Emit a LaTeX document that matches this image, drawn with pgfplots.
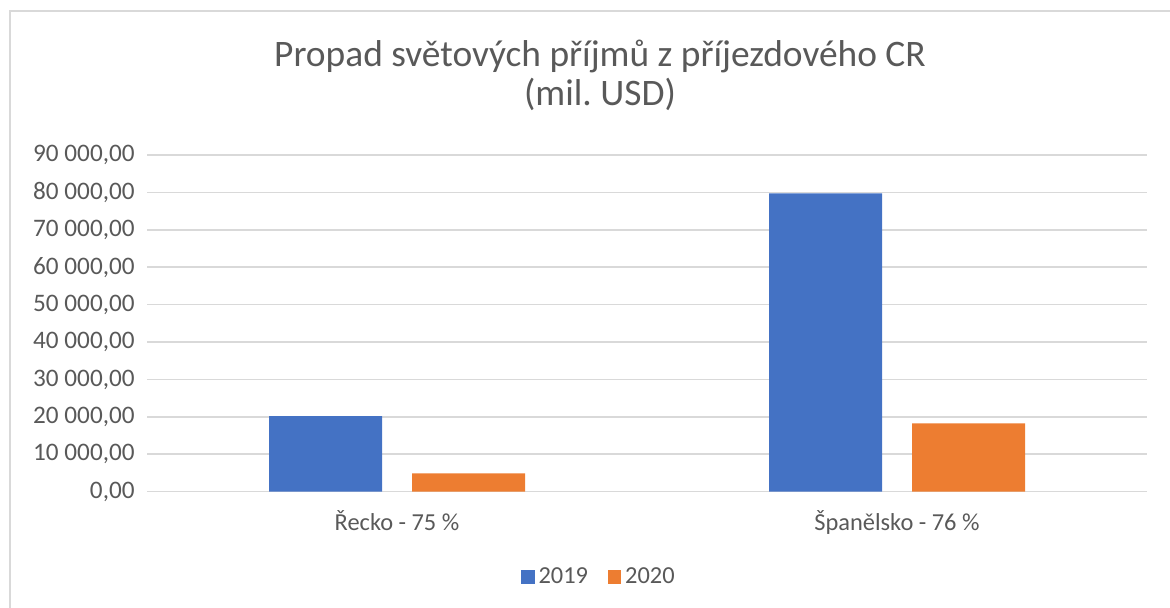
\documentclass[border=0pt]{standalone}
\usepackage{fontspec}
\setmainfont{Carlito}
\usepackage{pgfplots}
\pgfplotsset{compat=1.18}

\definecolor{txt}{HTML}{595959}
\definecolor{gridc}{HTML}{D9D9D9}
\definecolor{c2019}{HTML}{4472C4}
\definecolor{c2020}{HTML}{ED7D31}

\begin{document}
\frenchspacing
\begin{tikzpicture}
% canvas: 1170 x 608 px at 0.5pt per px
\path[use as bounding box] (0,0) rectangle (585pt,304pt);
\draw[gridc, line width=0.8pt] (5pt,0) -- (5pt,298.5pt) -- (585pt,298.5pt);

\node[anchor=base, text=txt, font=\fontsize{18.7}{22}\selectfont] at (300pt,270.5pt)
  {Propad světových příjmů z příjezdového CR};
\node[anchor=base, text=txt, font=\fontsize{18.7}{22}\selectfont] at (300pt,251pt)
  {(mil. USD)};

\begin{axis}[
    at={(73.5pt,58.15pt)}, anchor=south west,
    scale only axis,
    width=500pt, height=168.35pt,
    ybar,
    bar width=0.226,
    xmin=-0.5, xmax=1.5,
    ymin=0, ymax=90000,
    ytick distance=10000,
    xtick={0,1},
    xticklabels={Řecko - 75 \%, Španělsko - 76 \%},
    axis lines*=left,
    axis line style={draw=none},
    major tick length=0pt,
    ymajorgrids,
    grid style={gridc, line width=0.8pt},
    tick label style={text=txt},
    xticklabel style={anchor=base, yshift=-19.2pt, font=\fontsize{12.2}{14}\selectfont},
    yticklabel style={anchor=east, inner sep=0pt, xshift=-6pt,
        font=\fontsize{12.6}{14}\selectfont,
        /pgf/number format/.cd, fixed, fixed zerofill, precision=2,
        use comma, 1000 sep={\ }, assume math mode=true},
    scaled y ticks=false,
    legend columns=2,
    legend style={draw=none, at={(0.453,-0.253)}, anchor=center,
        font=\fontsize{12.2}{14}\selectfont, text=txt,
        /tikz/every even column/.append style={column sep=8pt}},
    legend image code/.code={\fill[#1] (0pt,-3.4pt) rectangle (6.6pt,3.4pt);},
]
\addplot[fill=c2019, draw=none, bar shift=-0.143] coordinates {
    (0,20230) (1,79750)
};
\addplot[fill=c2020, draw=none, bar shift=0.143] coordinates {
    (0,4930) (1,18280)
};
\legend{2019,2020}
\end{axis}
\end{tikzpicture}
\end{document}
